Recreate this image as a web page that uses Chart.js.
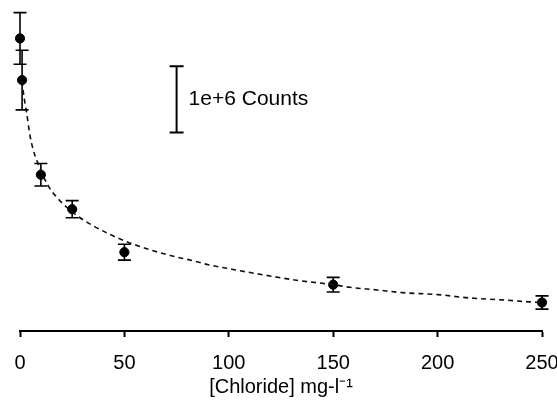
<!DOCTYPE html>
<html>
<head>
<meta charset="utf-8">
<script src="https://cdn.jsdelivr.net/npm/chart.js@4"></script>
<style>
  html, body { margin: 0; padding: 0; background: #fff; }
  #wrap { width: 557px; height: 401px; }
</style>
</head>
<body>
<div id="wrap"><canvas id="grafico"></canvas></div>
<script>
// ===============================
// DADOS (counts in units of 1e+6)
// ===============================
const chloride = [0, 1, 10, 25, 50, 150, 250];
const counts   = [4.42, 3.79, 2.36, 1.84, 1.19, 0.70, 0.43];
const countErr = [0.39, 0.45, 0.17, 0.13, 0.12, 0.11, 0.10];

// dashed fitted curve
const fitX = [1, 1.6, 2.4, 3.2, 4.8, 6.4, 8, 13.4, 17.6, 20, 27, 35, 43, 51, 61, 72, 83, 89, 102, 118, 134, 150, 158, 171, 183, 200, 215, 231, 244, 250];
const fitY = [3.78, 3.61, 3.44, 3.29, 2.95, 2.73, 2.58, 2.20, 2.02, 1.94, 1.75, 1.59, 1.46, 1.35, 1.24, 1.14, 1.06, 1.01, 0.93, 0.84, 0.76, 0.70, 0.66, 0.62, 0.58, 0.55, 0.50, 0.47, 0.44, 0.43];

const xTicks = [0, 50, 100, 150, 200, 250];
const xTitle = '[Chloride] mg-l\u207B\u00B9';

// scale bar: 1e+6 counts
const scaleBarX = 75;
const scaleBarRange = [3, 4];
const scaleBarLabel = '1e+6 Counts';

const FONT = "'Liberation Sans', Arial, Helvetica, sans-serif";

// ===============================
// PLUGINS
// ===============================
const errorBars = {
  id: 'errorBars',
  beforeDatasetsDraw(chart) {
    const { ctx, scales: { x, y } } = chart;
    ctx.save();
    ctx.strokeStyle = '#000';
    ctx.lineWidth = 1.6;
    chloride.forEach((c, i) => {
      const px = x.getPixelForValue(c);
      const top = y.getPixelForValue(counts[i] + countErr[i]);
      const bot = y.getPixelForValue(counts[i] - countErr[i]);
      ctx.beginPath();
      ctx.moveTo(px, top); ctx.lineTo(px, bot);
      ctx.moveTo(px - 6.5, top); ctx.lineTo(px + 6.5, top);
      ctx.moveTo(px - 6.5, bot); ctx.lineTo(px + 6.5, bot);
      ctx.stroke();
    });
    ctx.restore();
  }
};

const scaleBar = {
  id: 'scaleBar',
  afterDatasetsDraw(chart) {
    const { ctx, scales: { x, y } } = chart;
    const px = x.getPixelForValue(scaleBarX);
    const y0 = y.getPixelForValue(scaleBarRange[0]);
    const y1 = y.getPixelForValue(scaleBarRange[1]);
    ctx.save();
    ctx.strokeStyle = '#000';
    ctx.lineWidth = 2;
    ctx.beginPath();
    ctx.moveTo(px, y0); ctx.lineTo(px, y1);
    ctx.moveTo(px - 7, y0); ctx.lineTo(px + 7, y0);
    ctx.moveTo(px - 7, y1); ctx.lineTo(px + 7, y1);
    ctx.stroke();
    ctx.fillStyle = '#000';
    ctx.font = '21px ' + FONT;
    ctx.textBaseline = 'middle';
    ctx.textAlign = 'left';
    ctx.fillText(scaleBarLabel, px + 12, (y0 + y1) / 2);
    ctx.restore();
  }
};

// ===============================
// GRÁFICO
// ===============================
new Chart(document.getElementById('grafico'), {
  type: 'scatter',
  data: {
    datasets: [
      {
        type: 'line',
        data: fitX.map((v, i) => ({ x: v, y: fitY[i] })),
        borderColor: '#111',
        borderWidth: 1.6,
        borderDash: [5, 4],
        pointRadius: 0,
        cubicInterpolationMode: 'monotone',
        fill: false,
        clip: false
      },
      {
        data: chloride.map((v, i) => ({ x: v, y: counts[i] })),
        backgroundColor: '#000',
        borderColor: '#000',
        pointRadius: 4.6,
        pointHoverRadius: 4.6,
        clip: false
      }
    ]
  },
  options: {
    responsive: true,
    maintainAspectRatio: false,
    animation: false,
    layout: { autoPadding: false, padding: { left: 20, right: 15, top: 0, bottom: 0 } },
    plugins: { legend: { display: false }, tooltip: { enabled: false } },
    scales: {
      x: {
        type: 'linear',
        min: 0,
        max: 250,
        afterBuildTicks: s => { s.ticks = xTicks.map(v => ({ value: v })); },
        afterFit: s => { s.paddingLeft = 0; s.paddingRight = 0; },
        grid: { display: true, drawOnChartArea: false, drawTicks: true, tickLength: 6, tickWidth: 2, tickColor: '#000' },
        border: { display: true, color: '#000', width: 2 },
        ticks: { color: '#000', padding: 14, maxRotation: 0, font: { family: FONT, size: 20 } },
        title: { display: true, text: xTitle, color: '#000', padding: { top: -14, bottom: 2 }, font: { family: FONT, size: 20 } }
      },
      y: {
        display: false,
        min: 0,
        max: 5
      }
    }
  },
  plugins: [errorBars, scaleBar]
});
</script>
</body>
</html>
